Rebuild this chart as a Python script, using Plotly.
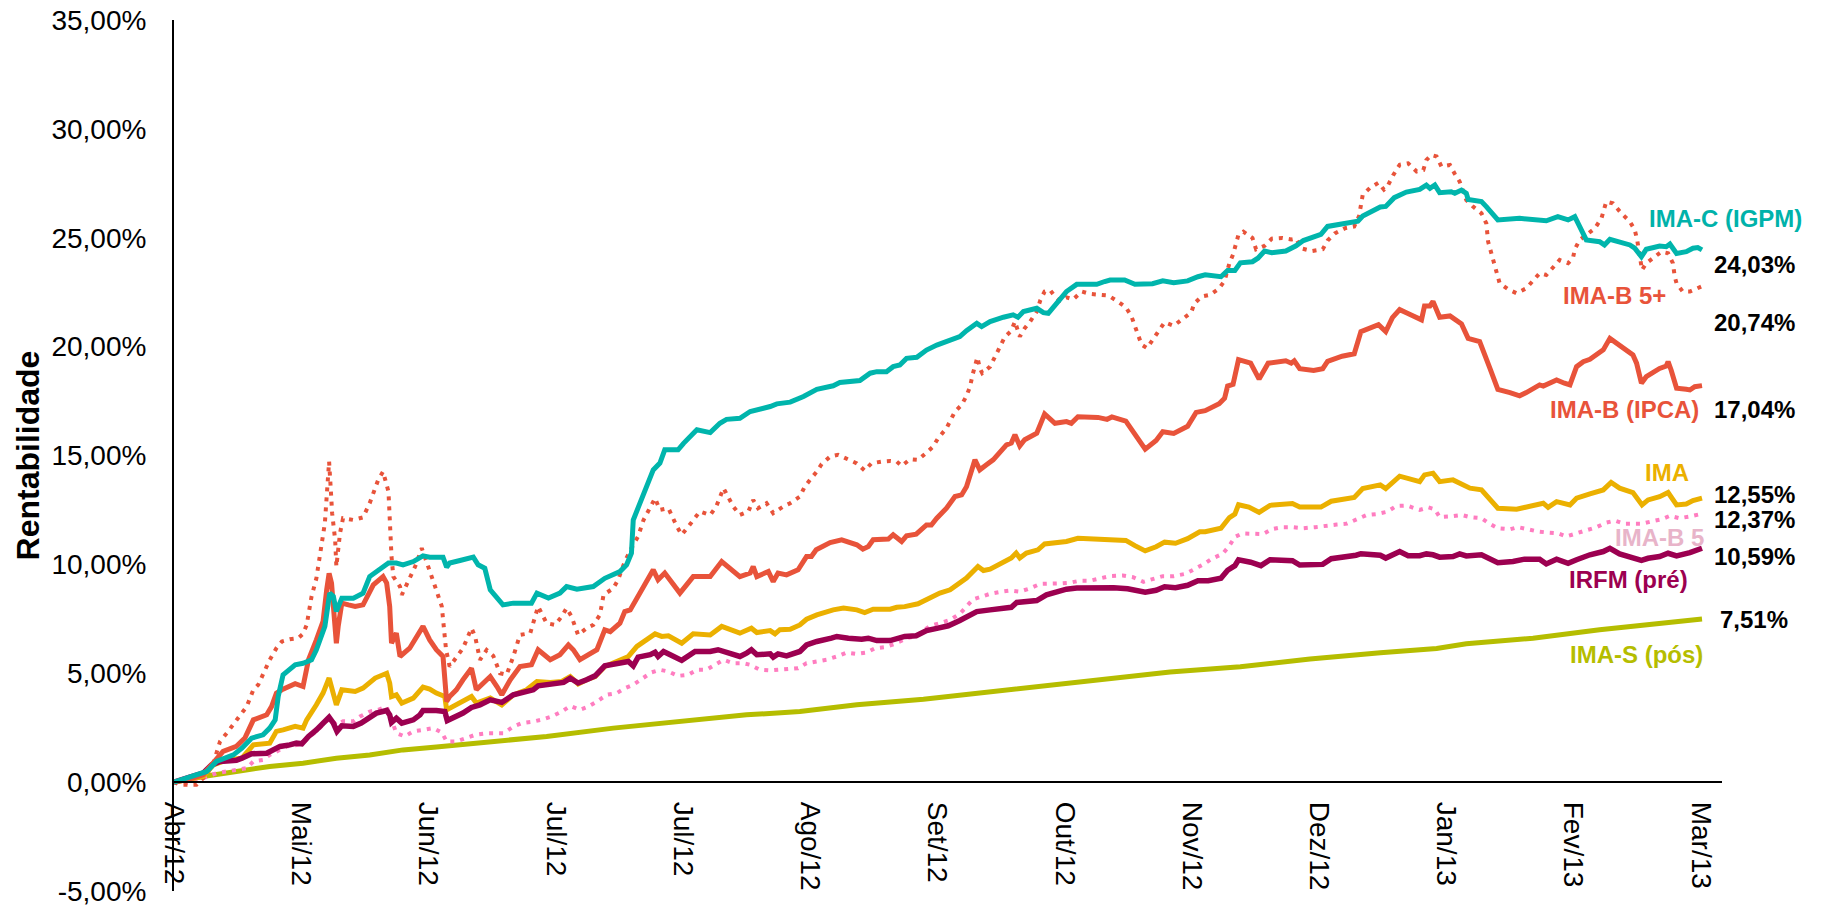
# Rentabilidade acumulada dos indices IMA (Abr/12 - Mar/13)
import plotly.graph_objects as go

# 1. Dados: (pregao, rentabilidade %)
ima_c = [(0, 0), (5.4, 0.49), (7.0, 0.95), (9.8, 1.25), (11.2, 1.56), (12.8, 2.02), (14.7, 2.17), (15.8, 2.48),
         (16.7, 2.86), (17.2, 3.93), (18.0, 4.93), (20.0, 5.39), (21.3, 5.46), (22.7, 5.62), (23.5, 6.08), (24.9, 7.15),
         (25.7, 8.68), (26.3, 8.53), (26.8, 7.84), (27.7, 8.45), (29.6, 8.45), (31.2, 8.68), (32.3, 9.44), (34.0, 9.75),
         (35.4, 10.06), (36.7, 10.06), (37.8, 9.98), (39.5, 10.13), (41.1, 10.39), (42.2, 10.33), (44.4, 10.33),
         (45.0, 9.87), (45.5, 10.06), (47.2, 10.18), (49.4, 10.33), (50.2, 9.98), (51.3, 9.82), (52.2, 8.83),
         (54.3, 8.14), (56.0, 8.22), (59.0, 8.22), (59.9, 8.68), (61.8, 8.45), (63.7, 8.68), (64.8, 8.98), (66.5, 8.86),
         (69.2, 8.98), (71.1, 9.36), (73.6, 9.67), (74.7, 9.98), (75.5, 10.51), (75.8, 12.04), (77.5, 13.27),
         (79.1, 14.34), (80.2, 14.65), (81.0, 15.26), (83.2, 15.26), (84.1, 15.56), (86.3, 16.18), (88.5, 16.05),
         (90.1, 16.48), (91.2, 16.66), (93.4, 16.71), (95.1, 17.02), (98.4, 17.25), (99.5, 17.37), (101.7, 17.45),
         (103.9, 17.71), (106.1, 18.04), (108.8, 18.20), (109.9, 18.35), (113.2, 18.44), (114.9, 18.78), (116.0, 18.85),
         (117.6, 18.85), (118.7, 19.08), (119.8, 19.16), (120.9, 19.46), (122.6, 19.51), (124.2, 19.84), (125.9, 20.07),
         (128.1, 20.33), (129.7, 20.46), (130.8, 20.73), (132.5, 21.07), (133.3, 20.92), (134.7, 21.15), (136.9, 21.35),
         (138.5, 21.46), (139.3, 21.35), (140.2, 21.61), (142.4, 21.76), (143.5, 21.56), (144.3, 21.53), (145.7, 21.99),
         (147.3, 22.53), (149.0, 22.86), (152.3, 22.86), (153.6, 22.99), (154.5, 23.06), (156.9, 23.06), (158.6, 22.86),
         (161.5, 22.89), (163.2, 23.02), (165.0, 22.94), (167.3, 23.02), (169.0, 23.21), (170.2, 23.30), (172.8, 23.21),
         (173.9, 23.50), (175.1, 23.50), (176.0, 23.85), (178.0, 23.90), (178.9, 24.06), (180.0, 24.39), (181.2, 24.31),
         (183.5, 24.39), (185.2, 24.63), (186.4, 24.87), (189.3, 25.16), (190.4, 25.52), (192.8, 25.63), (195.4, 25.76),
         (196.2, 26.00), (199.1, 26.41), (200.0, 26.44), (201.4, 26.84), (203.4, 27.10), (205.6, 27.22), (206.7, 27.42),
         (207.3, 27.27), (208.1, 27.42), (208.9, 27.07), (210.8, 27.11), (211.4, 27.04), (212.5, 27.19), (213.3, 27.04),
         (213.6, 26.76), (215.8, 26.66), (216.6, 26.43), (217.4, 26.20), (218.5, 25.82), (222.1, 25.89), (225.4, 25.85),
         (226.5, 25.78), (228.4, 25.97), (230.1, 25.82), (231.2, 25.97), (232.0, 25.51), (233.1, 24.90), (235.3, 24.82),
         (236.1, 24.67), (237.0, 24.93), (238.6, 24.82), (240.3, 24.67), (241.1, 24.52), (242.2, 24.13), (243.0, 24.47),
         (245.2, 24.62), (246.3, 24.59), (246.9, 24.71), (248.0, 24.28), (249.6, 24.36), (250.7, 24.52), (251.5, 24.55),
         (252.2, 24.44)]

ima_b = [(0, 0), (2.1, 0.11), (4.8, 0.34), (6.5, 0.87), (8.1, 1.41), (10.3, 1.64), (11.7, 2.02), (13.1, 2.86),
         (15.3, 3.09), (16.1, 3.47), (16.9, 4.09), (17.8, 4.24), (20.0, 4.52), (21.3, 4.39), (22.2, 5.62), (23.5, 6.53),
         (24.6, 7.38), (25.2, 8.83), (25.6, 9.59), (26.0, 9.14), (26.6, 7.45), (26.8, 6.38), (27.1, 7.15), (27.7, 8.22),
         (28.8, 8.14), (29.9, 8.07), (31.2, 8.14), (32.3, 8.68), (32.9, 9.06), (34.5, 9.44), (35.1, 9.14), (35.6, 8.07),
         (35.9, 6.38), (36.7, 6.84), (37.3, 5.77), (38.9, 6.15), (40.0, 6.61), (41.1, 7.15), (42.2, 6.53), (43.3, 6.08),
         (44.4, 5.77), (44.7, 4.85), (45.0, 3.70), (45.5, 3.93), (46.6, 4.24), (47.7, 4.70), (49.1, 5.23), (49.9, 4.24),
         (51.0, 4.55), (52.2, 4.85), (53.3, 4.39), (54.1, 4.01), (55.5, 4.70), (57.1, 5.31), (59.0, 5.39), (60.1, 6.08),
         (62.1, 5.62), (63.7, 5.85), (65.1, 6.30), (65.9, 6.08), (67.0, 5.62), (69.8, 6.08), (71.1, 6.99), (72.0, 6.91),
         (73.6, 7.30), (74.4, 7.83), (75.3, 7.91), (76.9, 8.68), (79.1, 9.75), (79.9, 9.29), (81.0, 9.60), (83.5, 8.68),
         (85.7, 9.44), (88.5, 9.44), (90.4, 10.13), (93.4, 9.44), (95.1, 9.60), (95.6, 9.90), (96.2, 9.44), (98.1, 9.67),
         (98.9, 9.21), (99.7, 9.60), (101.1, 9.52), (103.0, 9.75), (104.4, 10.36), (105.2, 10.36), (106.0, 10.67),
         (108.3, 11.00), (110.2, 11.13), (112.7, 10.90), (113.7, 10.70), (114.6, 10.82), (115.4, 11.13), (117.9, 11.16),
         (118.7, 11.36), (120.1, 11.05), (120.9, 11.31), (122.5, 11.39), (124.2, 11.81), (125.0, 11.81), (125.9, 12.12),
         (127.5, 12.58), (128.9, 13.12), (130.0, 13.19), (130.8, 13.57), (132.2, 14.80), (133.0, 14.34), (134.1, 14.57),
         (135.2, 14.80), (137.4, 15.49), (138.2, 15.57), (138.8, 15.95), (139.6, 15.44), (140.4, 15.72), (142.4, 16.02),
         (143.7, 16.91), (145.4, 16.48), (147.3, 16.56), (148.1, 16.48), (149.2, 16.78), (152.5, 16.75), (154.0, 16.66),
         (154.8, 16.77), (157.1, 16.58), (158.6, 15.93), (160.3, 15.29), (162.1, 15.69), (163.2, 16.09), (165.0, 16.01),
         (167.3, 16.34), (168.7, 16.98), (170.2, 17.06), (172.5, 17.38), (173.4, 17.63), (173.9, 18.19), (174.8, 18.27),
         (175.7, 19.40), (177.7, 19.24), (179.1, 18.51), (180.6, 19.24), (183.5, 19.35), (184.4, 19.24), (184.9, 19.35),
         (185.8, 18.99), (188.1, 18.91), (189.6, 18.99), (190.4, 19.32), (192.8, 19.56), (194.8, 19.67), (195.9, 20.69),
         (198.8, 21.01), (200.0, 20.69), (201.1, 21.33), (202.3, 21.70), (203.4, 21.56), (204.8, 21.38), (205.9, 21.23),
         (206.4, 21.87), (207.3, 21.87), (207.8, 22.07), (208.9, 21.35), (210.6, 21.41), (212.5, 21.04), (213.6, 20.38),
         (215.5, 20.23), (217.2, 19.00), (218.5, 18.04), (220.5, 17.89), (222.1, 17.74), (223.2, 17.89), (225.4, 18.24),
         (226.0, 18.19), (228.2, 18.47), (229.5, 18.32), (230.4, 18.24), (231.5, 19.08), (232.6, 19.31), (233.7, 19.42),
         (235.9, 19.85), (237.0, 20.38), (237.8, 20.23), (239.7, 19.85), (240.8, 19.62), (241.4, 19.24), (242.2, 18.32),
         (243.0, 18.62), (245.2, 19.00), (246.3, 19.11), (246.6, 19.31), (247.1, 18.93), (248.0, 18.09), (249.6, 18.04),
         (250.2, 18.01), (251.0, 18.16), (252.2, 18.21)]

ima_b5_mais = [(0, 0), (1.0, -0.12), (3.7, -0.12), (5.4, 0.34), (6.5, 0.87), (7.6, 1.87), (8.7, 2.25), (10.3, 2.86),
               (12.0, 3.47), (13.1, 4.24), (13.9, 4.47), (15.8, 5.62), (16.9, 6.15), (17.8, 6.46), (19.1, 6.56),
               (20.5, 6.61), (21.3, 6.81), (21.9, 7.22), (22.7, 8.52), (23.5, 9.36), (24.4, 10.89), (24.9, 11.89),
               (25.2, 13.11), (25.6, 14.72), (25.9, 13.34), (26.1, 12.35), (26.6, 11.12), (26.8, 9.90), (27.1, 10.67),
               (27.4, 11.43), (27.9, 12.12), (29.6, 12.04), (31.2, 12.16), (32.3, 12.81), (33.7, 13.88), (34.5, 14.26),
               (35.4, 13.34), (35.6, 11.57), (35.9, 10.36), (36.2, 9.44), (37.3, 8.98), (37.6, 8.60), (38.4, 9.06),
               (39.8, 9.90), (40.9, 10.74), (42.0, 9.90), (43.1, 8.98), (44.2, 8.07), (44.6, 6.99), (44.9, 6.08),
               (45.5, 5.31), (46.6, 5.77), (47.7, 6.15), (49.1, 7.07), (49.7, 6.69), (50.5, 5.62), (51.6, 6.07),
               (52.7, 5.80), (53.8, 5.00), (54.9, 4.93), (56.0, 5.77), (57.1, 6.76), (58.8, 6.84), (60.1, 8.07),
               (61.5, 7.30), (62.9, 7.22), (64.0, 7.61), (64.8, 7.99), (65.6, 7.61), (66.7, 6.76), (68.1, 7.07),
               (69.2, 7.22), (70.3, 7.68), (70.9, 8.60), (72.5, 8.90), (73.3, 9.29), (74.4, 10.13), (75.5, 10.74),
               (76.6, 11.28), (77.5, 12.04), (78.6, 12.58), (79.4, 13.04), (80.2, 12.50), (81.6, 12.58), (83.0, 11.74),
               (83.8, 11.36), (84.9, 11.74), (86.8, 12.43), (88.5, 12.27), (89.5, 12.66), (90.7, 13.50), (92.3, 12.66),
               (93.4, 12.27), (94.8, 12.43), (95.6, 12.96), (96.4, 12.58), (97.8, 12.81), (98.9, 12.35), (100.6, 12.66),
               (101.7, 12.81), (103.3, 13.11), (104.1, 13.57), (105.2, 13.96), (106.1, 14.26), (106.9, 14.61),
               (108.3, 14.95), (109.6, 15.03), (111.3, 14.83), (112.7, 14.64), (114.0, 14.31), (115.1, 14.64),
               (116.8, 14.72), (118.2, 14.75), (119.3, 14.72), (120.1, 14.52), (121.5, 14.83), (122.8, 14.80),
               (124.2, 15.13), (125.3, 15.41), (126.1, 15.79), (127.5, 16.25), (128.9, 17.02), (130.0, 17.32),
               (130.8, 17.74), (131.4, 18.17), (131.8, 18.70), (132.2, 19.16), (132.6, 19.51), (133.0, 19.01),
               (133.4, 18.78), (134.7, 19.08), (135.5, 19.54), (136.3, 19.97), (137.1, 20.43), (138.2, 20.73),
               (138.8, 21.15), (139.6, 20.46), (140.4, 20.84), (141.3, 21.15), (142.4, 21.61), (143.0, 22.14),
               (143.7, 22.53), (144.6, 22.60), (145.4, 22.30), (146.2, 22.11), (147.3, 22.26), (148.4, 22.17),
               (149.8, 22.53), (151.2, 22.42), (153.1, 22.38), (154.2, 22.35), (155.7, 22.09), (157.1, 21.81),
               (158.0, 21.41), (158.6, 20.93), (159.2, 20.44), (159.7, 20.09), (160.6, 19.93), (161.5, 20.32),
               (162.6, 20.73), (163.5, 21.12), (165.0, 20.96), (166.4, 21.25), (167.9, 21.57), (168.4, 21.98),
               (169.6, 22.30), (171.0, 22.38), (172.5, 22.67), (173.4, 23.02), (174.2, 23.83), (174.8, 24.23),
               (175.3, 24.67), (175.7, 25.15), (176.5, 25.28), (178.0, 24.99), (178.6, 24.47), (180.0, 24.63),
               (181.2, 24.96), (182.9, 24.99), (184.4, 24.92), (185.2, 24.96), (186.1, 24.51), (187.8, 24.39),
               (189.6, 24.47), (190.4, 24.87), (191.6, 25.20), (193.3, 25.44), (194.8, 25.52), (195.6, 26.00),
               (195.9, 26.49), (196.2, 26.97), (197.4, 27.29), (198.8, 27.53), (199.7, 27.21), (200.3, 27.37),
               (201.2, 27.86), (202.3, 28.35), (203.7, 28.42), (205.1, 28.04), (206.2, 28.11), (206.7, 28.57),
               (207.5, 28.80), (208.4, 28.73), (209.2, 28.27), (210.6, 28.34), (211.4, 27.93), (212.2, 27.58),
               (213.3, 26.73), (214.4, 26.43), (215.8, 26.12), (216.6, 25.66), (216.9, 24.82), (217.4, 24.29),
               (218.0, 23.83), (218.4, 23.37), (218.8, 22.91), (220.2, 22.63), (221.6, 22.45), (223.2, 22.68),
               (224.3, 23.06), (225.4, 23.37), (226.5, 23.29), (227.6, 23.67), (228.7, 23.98), (230.1, 23.83),
               (230.9, 24.06), (231.2, 24.47), (232.0, 24.90), (233.1, 25.13), (234.5, 25.43), (235.6, 25.89),
               (236.4, 26.66), (237.5, 26.58), (238.9, 26.12), (240.3, 25.74), (241.1, 25.36), (241.5, 24.90),
               (241.9, 24.13), (242.3, 23.52), (243.0, 23.83), (244.1, 24.06), (245.5, 24.36), (246.6, 24.29),
               (247.4, 23.83), (247.7, 23.21), (248.0, 22.91), (249.0, 22.53), (250.2, 22.53), (252.1, 22.76)]

ima = [(0, 0), (2.6, 0.11), (4.8, 0.26), (6.5, 0.79), (8.7, 1.02), (11.2, 1.10), (12.3, 1.48), (13.1, 1.71),
       (15.8, 1.79), (16.9, 2.33), (18.0, 2.40), (20.0, 2.56), (21.3, 2.48), (21.9, 2.86), (23.5, 3.55), (24.6, 4.09),
       (25.6, 4.78), (26.3, 4.09), (26.8, 3.55), (27.7, 4.24), (29.9, 4.16), (31.2, 4.32), (32.3, 4.55), (33.2, 4.78),
       (35.1, 5.00), (35.6, 4.55), (35.9, 3.93), (36.7, 4.01), (37.6, 3.63), (39.5, 3.86), (41.1, 4.36), (42.2, 4.27),
       (43.3, 4.09), (44.7, 3.93), (45.0, 3.32), (46.6, 3.55), (47.7, 3.70), (49.1, 3.93), (49.9, 3.63), (50.5, 3.70),
       (52.2, 3.86), (54.1, 3.55), (56.0, 4.01), (58.2, 4.24), (59.9, 4.62), (62.1, 4.58), (64.0, 4.62), (65.4, 4.85),
       (66.7, 4.51), (68.1, 4.70), (69.5, 4.85), (71.1, 5.31), (73.6, 5.62), (75.0, 5.77), (76.4, 6.23), (77.7, 6.46),
       (79.4, 6.81), (80.5, 6.69), (81.6, 6.72), (83.8, 6.38), (85.7, 6.81), (88.5, 6.76), (90.4, 7.15), (93.4, 6.84),
       (95.3, 7.07), (96.2, 6.87), (98.4, 6.96), (99.2, 6.81), (100.0, 7.00), (101.7, 7.02), (103.3, 7.22),
       (104.4, 7.48), (106.1, 7.68), (108.8, 7.91), (110.5, 7.99), (112.7, 7.91), (114.0, 7.79), (115.4, 7.94),
       (118.2, 7.94), (119.3, 8.03), (120.6, 8.06), (122.8, 8.19), (124.2, 8.40), (126.4, 8.68), (128.1, 8.83),
       (129.2, 9.06), (130.8, 9.37), (132.7, 9.90), (133.6, 9.72), (134.7, 9.78), (136.3, 10.03), (138.2, 10.29),
       (139.0, 10.52), (139.6, 10.29), (140.7, 10.52), (142.6, 10.67), (143.7, 10.94), (145.7, 10.97), (147.3, 11.05),
       (149.2, 11.20), (152.3, 11.16), (154.5, 11.18), (157.1, 11.10), (158.6, 10.86), (160.3, 10.62), (162.1, 10.81),
       (163.5, 11.02), (165.3, 10.97), (167.3, 11.18), (169.3, 11.50), (170.2, 11.50), (172.8, 11.66), (174.2, 12.15),
       (175.1, 12.31), (175.7, 12.74), (177.4, 12.63), (179.1, 12.39), (180.9, 12.71), (184.6, 12.79), (185.8, 12.63),
       (189.3, 12.63), (191.0, 12.90), (193.3, 13.03), (194.8, 13.07), (196.2, 13.48), (199.1, 13.65), (200.0, 13.48),
       (201.4, 13.81), (202.3, 14.05), (205.6, 13.80), (206.4, 14.11), (207.8, 14.19), (208.9, 13.80), (211.1, 13.88),
       (212.2, 13.73), (213.9, 13.50), (215.8, 13.42), (217.2, 12.96), (218.5, 12.58), (221.6, 12.53), (224.3, 12.73),
       (226.0, 12.81), (226.8, 12.62), (228.2, 12.88), (230.4, 12.73), (231.5, 13.04), (233.7, 13.24), (235.9, 13.42),
       (237.2, 13.76), (238.6, 13.50), (240.8, 13.30), (241.6, 12.96), (242.3, 12.73), (243.3, 12.96), (245.2, 13.11),
       (246.6, 13.30), (248.0, 12.73), (249.6, 12.77), (250.7, 12.93), (252.2, 13.04)]

ima_b5 = [(0, 0), (2.6, -0.05), (4.8, 0.18), (7.0, 0.41), (8.7, 0.49), (10.3, 0.56), (12.0, 0.64), (13.1, 0.95),
          (14.7, 1.02), (15.8, 1.25), (16.9, 1.41), (18.6, 1.64), (20.5, 1.71), (21.3, 1.79), (22.4, 2.10), (23.5, 2.33),
          (24.6, 2.63), (25.7, 2.94), (26.8, 2.63), (27.9, 2.79), (29.6, 2.79), (30.7, 3.01), (32.3, 3.24), (33.7, 3.32),
          (35.1, 3.47), (35.9, 2.86), (36.7, 2.25), (38.1, 2.10), (39.5, 2.33), (41.1, 2.40), (42.8, 2.48), (44.2, 2.28),
          (45.0, 1.87), (46.6, 1.87), (48.3, 2.02), (49.7, 2.17), (51.0, 2.22), (51.9, 2.25), (54.4, 2.25), (56.0, 2.55),
          (57.4, 2.71), (59.3, 2.78), (61.0, 2.89), (62.3, 3.01), (64.0, 3.24), (65.4, 3.50), (67.0, 3.32), (68.4, 3.47),
          (69.8, 3.70), (71.4, 4.01), (73.1, 4.09), (74.4, 4.31), (75.8, 4.47), (77.5, 4.77), (78.8, 5.04), (80.2, 5.16),
          (81.6, 5.08), (83.2, 4.88), (84.9, 4.93), (86.3, 5.16), (87.9, 5.16), (89.3, 5.39), (90.7, 5.62), (92.3, 5.46),
          (94.0, 5.46), (95.1, 5.39), (96.7, 5.16), (98.4, 5.13), (100.0, 5.16), (101.7, 5.20), (103.0, 5.23),
          (104.4, 5.46), (106.1, 5.54), (107.7, 5.62), (109.4, 5.77), (111.0, 5.95), (112.7, 5.89), (114.3, 5.95),
          (115.7, 6.15), (117.3, 6.20), (119.0, 6.35), (120.9, 6.61), (122.6, 6.72), (123.7, 6.96), (124.8, 7.18),
          (126.4, 7.30), (128.1, 7.45), (129.7, 7.73), (131.9, 8.40), (133.3, 8.52), (134.7, 8.65), (136.6, 8.75),
          (138.0, 8.80), (139.6, 8.75), (141.3, 8.90), (142.9, 9.10), (144.6, 9.10), (146.2, 9.13), (147.9, 9.16),
          (149.5, 9.25), (151.2, 9.25), (153.1, 9.36), (154.5, 9.46), (156.6, 9.49), (158.3, 9.41), (160.0, 9.20),
          (161.5, 9.30), (163.2, 9.46), (165.0, 9.46), (167.0, 9.57), (168.4, 9.78), (169.9, 10.00), (171.3, 10.26),
          (173.1, 10.49), (174.2, 10.86), (175.1, 11.26), (176.3, 11.42), (178.3, 11.39), (179.7, 11.39), (181.2, 11.62),
          (182.9, 11.71), (184.6, 11.71), (186.4, 11.66), (188.4, 11.71), (190.1, 11.78), (191.9, 11.83), (193.6, 11.87),
          (195.4, 12.07), (196.8, 12.26), (198.5, 12.31), (200.3, 12.42), (201.7, 12.68), (203.5, 12.70), (205.6, 12.50),
          (207.0, 12.62), (208.1, 12.53), (208.9, 12.17), (210.6, 12.20), (212.5, 12.27), (213.9, 12.17), (215.8, 12.12),
          (217.2, 11.86), (218.5, 11.66), (220.5, 11.61), (221.8, 11.71), (223.5, 11.61), (225.1, 11.51), (226.8, 11.46),
          (228.4, 11.43), (229.8, 11.28), (231.5, 11.43), (233.1, 11.58), (234.8, 11.71), (236.4, 11.92), (237.8, 12.01),
          (239.4, 11.86), (240.8, 11.86), (242.2, 11.86), (243.8, 11.97), (245.5, 12.07), (246.9, 12.23), (248.5, 12.12),
          (250.2, 12.20), (252.1, 12.32)]

irfm = [(0, 0), (1.0, 0.11), (2.6, 0.23), (4.8, 0.41), (6.2, 0.79), (7.6, 0.95), (10.3, 1.00), (11.2, 1.10),
        (12.8, 1.30), (15.3, 1.33), (16.4, 1.48), (17.5, 1.64), (19.1, 1.71), (20.2, 1.79), (21.1, 1.76), (22.2, 2.10),
        (23.5, 2.40), (24.6, 2.71), (25.6, 2.98), (26.3, 2.71), (26.9, 2.33), (27.7, 2.59), (29.6, 2.56), (30.9, 2.71),
        (32.3, 2.98), (33.4, 3.17), (35.1, 3.29), (35.6, 3.09), (35.9, 2.74), (36.7, 2.94), (37.6, 2.71), (39.5, 2.86),
        (40.6, 3.09), (41.1, 3.29), (43.3, 3.29), (44.7, 3.24), (45.1, 2.83), (46.6, 3.01), (47.7, 3.17), (49.1, 3.43),
        (50.5, 3.55), (52.2, 3.78), (54.1, 3.66), (56.0, 4.01), (57.7, 4.16), (59.3, 4.24), (60.1, 4.42), (62.1, 4.51),
        (64.3, 4.58), (65.4, 4.77), (66.7, 4.55), (68.1, 4.70), (69.5, 4.88), (71.1, 5.34), (73.6, 5.46), (75.0, 5.54),
        (75.8, 5.34), (76.6, 5.74), (78.6, 5.85), (79.4, 5.96), (79.9, 5.77), (80.8, 6.00), (81.9, 5.85), (83.8, 5.59),
        (86.0, 6.00), (88.5, 6.00), (89.8, 6.08), (93.4, 5.77), (94.5, 5.92), (95.3, 6.08), (96.2, 5.85), (98.4, 5.89),
        (98.9, 5.74), (99.7, 5.89), (101.1, 5.80), (103.3, 6.00), (104.4, 6.30), (106.1, 6.46), (108.5, 6.61),
        (109.4, 6.69), (111.3, 6.61), (113.5, 6.56), (114.6, 6.61), (116.0, 6.50), (118.2, 6.50), (119.3, 6.56),
        (120.6, 6.69), (122.5, 6.72), (124.2, 6.96), (126.1, 7.07), (127.8, 7.18), (129.7, 7.42), (130.8, 7.57),
        (132.5, 7.83), (134.7, 7.91), (136.9, 7.99), (138.2, 8.03), (139.1, 8.25), (140.7, 8.29), (142.4, 8.34),
        (144.0, 8.60), (145.7, 8.75), (147.3, 8.86), (149.0, 8.91), (151.2, 8.91), (152.8, 8.96), (155.1, 8.93),
        (157.4, 8.88), (158.6, 8.81), (160.3, 8.72), (162.1, 8.81), (163.5, 8.97), (165.3, 8.93), (167.3, 9.04),
        (169.0, 9.25), (170.7, 9.25), (172.8, 9.36), (173.9, 9.73), (175.1, 9.94), (175.7, 10.21), (177.7, 10.10),
        (179.4, 9.94), (180.9, 10.21), (182.9, 10.17), (184.6, 10.17), (185.8, 9.97), (187.5, 9.97), (189.6, 10.00),
        (191.0, 10.26), (193.3, 10.33), (195.1, 10.42), (195.9, 10.49), (198.0, 10.46), (199.1, 10.42), (200.0, 10.29),
        (201.4, 10.49), (202.3, 10.59), (203.7, 10.40), (205.6, 10.40), (206.7, 10.48), (207.8, 10.44), (208.9, 10.33),
        (211.1, 10.36), (212.2, 10.48), (213.3, 10.39), (215.8, 10.44), (217.2, 10.28), (218.5, 10.08), (221.0, 10.13),
        (222.9, 10.24), (225.4, 10.24), (226.5, 10.02), (228.2, 10.24), (230.1, 10.05), (231.5, 10.21), (233.7, 10.44),
        (235.9, 10.59), (237.0, 10.74), (238.6, 10.48), (240.8, 10.33), (242.2, 10.18), (243.3, 10.28), (245.2, 10.36),
        (246.6, 10.51), (248.0, 10.39), (250.2, 10.54), (252.2, 10.74)]

ima_s = [(0, 0), (4.8, 0.26), (10.3, 0.49), (15.8, 0.72), (21.3, 0.87), (26.8, 1.10), (32.3, 1.25), (37.8, 1.48),
         (43.3, 1.61), (48.8, 1.76), (51.0, 1.80), (61.5, 2.10), (72.5, 2.48), (83.5, 2.78), (94.5, 3.09), (103.3, 3.24),
         (112.7, 3.55), (123.7, 3.81), (134.7, 4.16), (145.7, 4.51), (154.5, 4.75), (164.4, 5.06), (176.0, 5.30),
         (187.5, 5.65), (199.1, 5.94), (208.4, 6.14), (213.3, 6.35), (224.3, 6.61), (235.3, 7.00), (246.3, 7.31),
         (252.2, 7.49)]

# rotulos do eixo x (a cada 21 pregoes) e escala do eixo y
meses = ["Abr/12", "Mai/12", "Jun/12", "Jul/12", "Jul/12", "Ago/12", "Set/12", "Out/12",
         "Nov/12", "Dez/12", "Jan/13", "Fev/13", "Mar/13"]
pregoes_rotulo = [21 * k for k in range(len(meses))]
pregoes_marca = [21, 42, 84, 147, 168, 210]
y_ticks = [-5, 0, 5, 10, 15, 20, 25, 30, 35]
y_grade = [0, 15, 25, 30]

# rotulos finais
nomes = ["IMA-C (IGPM)", "IMA-B 5+", "IMA-B (IPCA)", "IMA", "IMA-B 5", "IRFM (pré)", "IMA-S (pós)"]
valores_finais = ["24,03%", "20,74%", "17,04%", "12,55%", "12,37%", "10,59%", "7,51%"]

FONT = "Liberation Sans, Arial, sans-serif"
RED = "#E8533A"


def pct(v):
    return f"{v:.2f}%".replace(".", ",")


def add_line(fig, serie, name, color, width, dash="solid"):
    dias, vals = zip(*serie)
    fig.add_trace(go.Scatter(x=list(dias), y=list(vals), mode="lines", name=name,
                             line=dict(color=color, width=width, dash=dash)))


fig = go.Figure()
add_line(fig, ima_s, "IMA-S (pós)", "#B5BD00", 5)
add_line(fig, ima_b5, "IMA-B 5", "#FF7DC0", 4, "4px,6px")
add_line(fig, ima_b5_mais, "IMA-B 5+", RED, 4, "4px,6px")
add_line(fig, ima, "IMA", "#EBB000", 5)
add_line(fig, irfm, "IRFM (pré)", "#9C0050", 5.5)
add_line(fig, ima_b, "IMA-B (IPCA)", RED, 5)
add_line(fig, ima_c, "IMA-C (IGPM)", "#00B5AC", 5)

# (texto, x, y, cor)
rotulos = [
    (nomes[0], 243.1, 25.9, "#00B2AA"),
    (nomes[1], 228.9, 22.37, RED),
    (nomes[2], 226.7, 17.09, RED),
    (nomes[3], 242.4, 14.2, "#EBB000"),
    (nomes[4], 237.5, 11.22, "#E8B4C9"),
    (nomes[5], 229.9, 9.29, "#9C0050"),
    (nomes[6], 230.0, 5.84, "#B5BD00"),
    (valores_finais[0], 253.8, 23.75, "black"),
    (valores_finais[1], 253.8, 21.09, "black"),
    (valores_finais[2], 253.8, 17.09, "black"),
    (valores_finais[3], 253.8, 13.19, "black"),
    (valores_finais[4], 253.8, 12.04, "black"),
    (valores_finais[5], 253.8, 10.34, "black"),
    (valores_finais[6], 254.8, 7.45, "black"),
]
for txt, x, y, cor in rotulos:
    fig.add_annotation(x=x, y=y, xref="x", yref="y", text=f"<b>{txt}</b>", showarrow=False,
                       xanchor="left", yanchor="middle", font=dict(family=FONT, size=24, color=cor))

fig.update_layout(
    width=1821, height=907,
    margin=dict(l=174, r=99, t=20, b=16, autoexpand=False),
    plot_bgcolor="white", paper_bgcolor="white",
    showlegend=False,
    xaxis=dict(range=[0, 255.5], tickvals=pregoes_rotulo, ticktext=meses, tickangle=90,
               ticks="", showgrid=False, zeroline=False, showline=True, linecolor="black", linewidth=2,
               anchor="free", position=0.125, ticklabelstandoff=13,
               tickfont=dict(family=FONT, size=28, color="black")),
    xaxis2=dict(overlaying="x", matches="x", anchor="free", position=0.125,
                tickvals=pregoes_marca, ticks="outside", ticklen=9, tickwidth=1.5, tickcolor="#444",
                showticklabels=False, showgrid=False, zeroline=False, showline=False),
    yaxis=dict(range=[-5, 35], tickvals=y_ticks, ticktext=[pct(v) for v in y_ticks],
               ticks="", showgrid=False, zeroline=False, showline=True, linecolor="black", linewidth=2,
               ticklabelstandoff=20, tickfont=dict(family=FONT, size=28, color="black"),
               title=dict(text="<b>Rentabilidade</b>", standoff=2,
                          font=dict(family=FONT, size=32, color="black"))),
    yaxis2=dict(overlaying="y", matches="y", anchor="x", side="left",
                tickvals=y_grade, ticks="outside", ticklen=9, tickwidth=1.5, tickcolor="#444",
                showticklabels=False, showline=False, zeroline=False,
                showgrid=True, gridcolor="#CCCCCC", gridwidth=1, griddash="3px,2px"),
)

# a pagina padrao tem margem de 8px no body; zera para o grafico ocupar a janela
fig.write_html("out.html", config={"displayModeBar": False},
               post_script="document.body.style.margin='0';")
